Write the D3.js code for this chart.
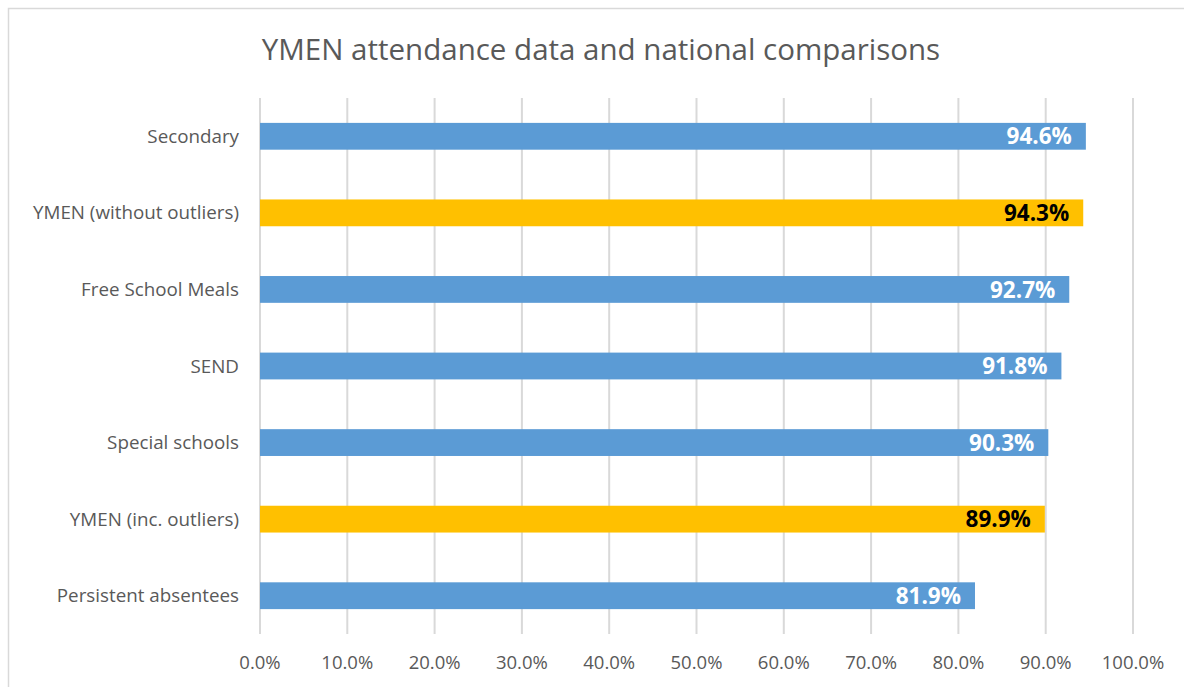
<!DOCTYPE html>
<html>
<head>
<meta charset="utf-8">
<script src="https://cdn.jsdelivr.net/npm/d3@7"></script>
<style>
  body { margin: 0; background: #fff; }
  text { font-family: "Open Sans", "Noto Sans", sans-serif; }
</style>
</head>
<body>
<svg id="chart" width="1184" height="687"></svg>
<script>
// Chart data, top to bottom
var categories = ["Secondary", "YMEN (without outliers)", "Free School Meals", "SEND",
	"Special schools", "YMEN (inc. outliers)", "Persistent absentees"];
var values = [94.6, 94.3, 92.7, 91.8, 90.3, 89.9, 81.9];
var highlighted = ["YMEN (without outliers)", "YMEN (inc. outliers)"];
var tickValues = [0, 10, 20, 30, 40, 50, 60, 70, 80, 90, 100];

var svg = d3.select("#chart");

// Outer chart border (right and bottom edges run off the picture)
svg.append("rect")
	.attr("x", 8.5).attr("y", 8.5)
	.attr("width", 1200).attr("height", 700)
	.attr("fill", "white")
	.attr("stroke", "#d9d9d9")
	.attr("stroke-width", 1.5);

var x = d3.scaleLinear().domain([0, 100]).range([260, 1133]);
var y = d3.scaleBand().domain(categories).range([98, 634])
	.paddingInner(0.65).paddingOuter(0.325);

//Title
svg.append("text")
	.attr("x", 601).attr("y", 60)
	.attr("text-anchor", "middle")
	.attr("fill", "#595959")
	.attr("font-size", 29.5)
	.text("YMEN attendance data and national comparisons");

//Gridlines
svg.append("g").selectAll("line").data(tickValues).enter().append("line")
	.attr("x1", d=>x(d)).attr("x2", d=>x(d))
	.attr("y1", 98).attr("y2", 634)
	.attr("stroke", "#d9d9d9")
	.attr("stroke-width", 2);

//X axis tick labels
svg.append("g").selectAll("text").data(tickValues).enter().append("text")
	.attr("x", d=>x(d)).attr("y", 669)
	.attr("text-anchor", "middle")
	.attr("fill", "#595959")
	.attr("font-size", 18.5)
	.text(d=>d3.format(".1f")(d) + "%");

//Bars
svg.append("g").selectAll("rect").data(categories).enter().append("rect")
	.attr("x", x(0))
	.attr("y", d=>y(d))
	.attr("width", (d, i)=>x(values[i]) - x(0))
	.attr("height", y.bandwidth())
	.attr("fill", d=>highlighted.includes(d) ? "#ffc000" : "#5b9bd5");

//Category labels
svg.append("g").selectAll("text").data(categories).enter().append("text")
	.attr("x", 239)
	.attr("y", d=>y(d) + y.bandwidth() / 2)
	.attr("dy", "0.35em")
	.attr("text-anchor", "end")
	.attr("fill", "#595959")
	.attr("font-size", 18.8)
	.text(d=>d);

//Value labels
svg.append("g").selectAll("text").data(categories).enter().append("text")
	.attr("x", (d, i)=>x(values[i]) - 14)
	.attr("y", d=>y(d) + y.bandwidth() / 2)
	.attr("dy", "0.36em")
	.attr("text-anchor", "end")
	.attr("font-weight", "bold")
	.attr("font-size", 22.5)
	.attr("fill", d=>highlighted.includes(d) ? "#000" : "#fff")
	.text((d, i)=>values[i].toFixed(1) + "%");
</script>
</body>
</html>
